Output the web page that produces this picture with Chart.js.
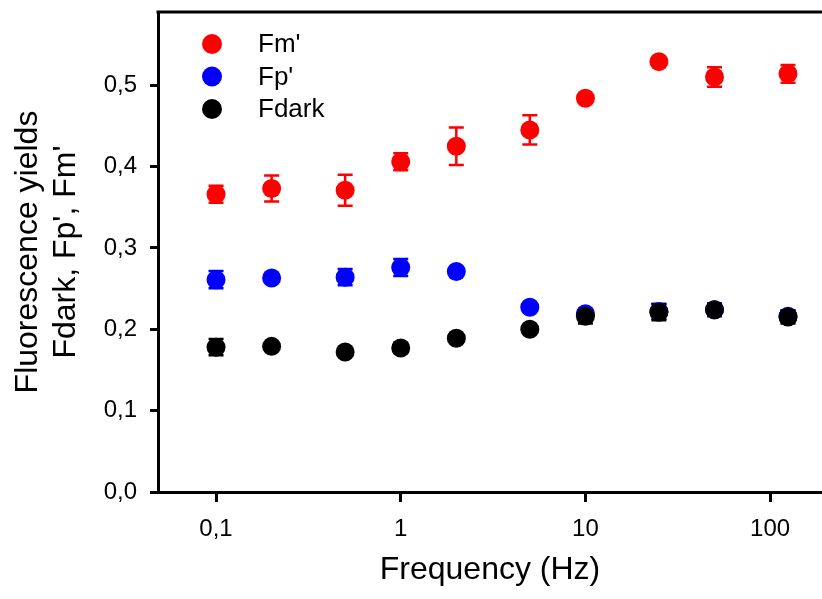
<!DOCTYPE html>
<html>
<head>
<meta charset="utf-8">
<script src="https://cdn.jsdelivr.net/npm/chart.js@4.4.1/dist/chart.umd.min.js"></script>
<style>
  html, body { margin: 0; padding: 0; background: #fff; overflow: hidden; }
  #wrap { width: 822px; height: 599px; position: relative; }
</style>
</head>
<body>
<div id="wrap"><canvas id="fluoChart"></canvas></div>
<script>
// ====================== Data ======================
const freqs = [0.1, 0.2, 0.5, 1, 2, 5, 10, 25, 50, 125];

const fmValues = [0.366, 0.373, 0.371, 0.406, 0.425, 0.445, 0.484, 0.529, 0.510, 0.514];
const fmErrors = [0.0105, 0.016, 0.019, 0.0105, 0.023, 0.018, 0.005, 0.004, 0.012, 0.011];

const fpValues = [0.261, 0.263, 0.264, 0.276, 0.271, 0.227, 0.219, 0.222, 0.224, 0.216];
const fpErrors = [0.0105, 0.004, 0.010, 0.0105, 0.004, 0.004, 0.004, 0.009, 0.008, 0.007];

const fdarkValues = [0.178, 0.179, 0.172, 0.177, 0.189, 0.200, 0.216, 0.221, 0.224, 0.215];
const fdarkErrors = [0.010, 0.004, 0.004, 0.006, 0.004, 0.004, 0.009, 0.010, 0.006, 0.008];

const xTickValues = [0.1, 1, 10, 100];
const yTickValues = [0, 0.1, 0.2, 0.3, 0.4, 0.5];

const FONT = "'Liberation Sans', Arial, sans-serif";

function toPoints(values) {
  return freqs.map((f, i) => ({ x: f, y: values[i] }));
}

// ====================== Plugins ======================
// error bars, drawn under the dots
const errorBars = {
  id: 'errorBars',
  beforeDatasetsDraw(chart) {
    const ctx = chart.ctx;
    const xs = chart.scales.x, ys = chart.scales.y;
    ctx.save();
    chart.data.datasets.slice().reverse().forEach(ds => {
      ctx.strokeStyle = ds.backgroundColor;
      ctx.lineWidth = 2.5;
      ds.data.forEach((p, i) => {
        const e = ds.errors[i];
        const px = xs.getPixelForValue(p.x);
        const top = ys.getPixelForValue(p.y + e);
        const bot = ys.getPixelForValue(p.y - e);
        ctx.beginPath();
        ctx.moveTo(px, top); ctx.lineTo(px, bot);
        ctx.moveTo(px - 7.5, top); ctx.lineTo(px + 7.5, top);
        ctx.moveTo(px - 7.5, bot); ctx.lineTo(px + 7.5, bot);
        ctx.stroke();
      });
    });
    ctx.restore();
  }
};

// top frame line + legend in the upper left
const frameAndLegend = {
  id: 'frameAndLegend',
  afterDraw(chart) {
    const ctx = chart.ctx;
    const area = chart.chartArea;
    ctx.save();
    ctx.strokeStyle = '#000';
    ctx.lineWidth = 3;
    ctx.beginPath();
    ctx.moveTo(area.left - 1.5, area.top);
    ctx.lineTo(area.right, area.top);
    ctx.stroke();

    const items = [chart.data.datasets[2], chart.data.datasets[1], chart.data.datasets[0]];
    ctx.font = '26px ' + FONT;
    ctx.textBaseline = 'middle';
    ctx.textAlign = 'left';
    items.forEach((ds, i) => {
      const cy = area.top + 32 + i * 32.5;
      ctx.fillStyle = ds.backgroundColor;
      ctx.beginPath();
      ctx.arc(area.left + 54, cy, 10, 0, Math.PI * 2);
      ctx.fill();
      ctx.fillStyle = '#000';
      ctx.fillText(ds.label, area.left + 100, cy + 1);
    });
    ctx.restore();
  }
};

// ====================== Chart ======================
new Chart(document.getElementById('fluoChart'), {
  type: 'scatter',
  data: {
    datasets: [
      { label: 'Fdark', data: toPoints(fdarkValues), errors: fdarkErrors, backgroundColor: '#000000', order: 0 },
      { label: "Fp'", data: toPoints(fpValues), errors: fpErrors, backgroundColor: '#0000ff', order: 1 },
      { label: "Fm'", data: toPoints(fmValues), errors: fmErrors, backgroundColor: '#ff0000', order: 2 }
    ]
  },
  options: {
    responsive: true,
    maintainAspectRatio: false,
    animation: false,
    layout: { autoPadding: false, padding: { top: 12, right: 0, left: 0, bottom: 0 } },
    elements: { point: { radius: 9.5, borderWidth: 0, hoverRadius: 9.5 } },
    plugins: { legend: { display: false }, tooltip: { enabled: false } },
    scales: {
      x: {
        type: 'logarithmic',
        min: 0.0485,
        max: 191,
        afterBuildTicks: s => { s.ticks = xTickValues.map(v => ({ value: v })); },
        afterFit: s => { s.height = 107; s.paddingLeft = 0; s.paddingRight = 0; },
        border: { display: true, color: '#000', width: 3 },
        grid: { drawOnChartArea: false, drawTicks: true, tickLength: 10, color: '#000', lineWidth: 3 },
        ticks: {
          color: '#000',
          font: { family: FONT, size: 24 },
          padding: 13,
          maxRotation: 0,
          autoSkip: false,
          callback: v => String(v).replace('.', ',')
        },
        title: {
          display: true,
          text: 'Frequency (Hz)',
          color: '#000',
          font: { family: FONT, size: 32 },
          padding: { top: 0, bottom: 10 }
        }
      },
      y: {
        min: 0,
        max: 0.59,
        afterBuildTicks: s => { s.ticks = yTickValues.map(v => ({ value: v })); },
        afterFit: s => { s.width = 158; s.paddingTop = 0; s.paddingBottom = 0; },
        border: { display: true, color: '#000', width: 3 },
        grid: { drawOnChartArea: false, drawTicks: true, tickLength: 8, color: '#000', lineWidth: 3 },
        ticks: {
          color: '#000',
          font: { family: FONT, size: 24 },
          padding: 13,
          callback: v => v.toFixed(1).replace('.', ',')
        },
        title: {
          display: true,
          text: ['Fluorescence yields', "Fdark, Fp', Fm'"],
          color: '#000',
          font: { family: FONT, size: 32 },
          padding: { top: 9, bottom: 0 }
        }
      }
    }
  },
  plugins: [errorBars, frameAndLegend]
});
</script>
</body>
</html>
